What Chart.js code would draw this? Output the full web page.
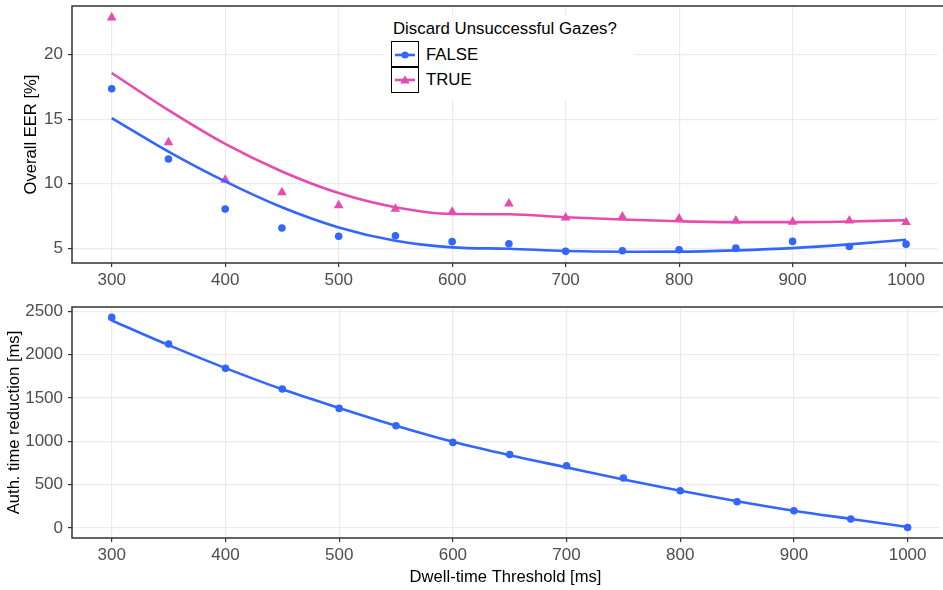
<!DOCTYPE html>
<html>
<head>
<meta charset="utf-8">
<script src="https://cdn.jsdelivr.net/npm/chart.js@4.4.1/dist/chart.umd.min.js"></script>
<style>
  body { margin: 0; background: #fff; width: 943px; height: 590px; overflow: hidden; position: relative;
         font-family: "Liberation Sans", Arial, sans-serif; }
  #eerChart { position: absolute; left: 0; top: 0; }
  #reductionChart { position: absolute; left: 0; top: 290px; }
  #legend { position: absolute; left: 383px; top: 15px; width: 252px; height: 85px; background: #fff; }
  #legend .title { position: absolute; left: 10px; top: 4px; font-size: 16.8px; line-height: 20px; color: #000; white-space: nowrap; }
  #legend .key { position: absolute; left: 9px; width: 26px; height: 26px; }
  #legend .label { position: absolute; left: 43px; font-size: 16.8px; line-height: 20px; color: #000; }
  #legend .box { position: absolute; left: 8px; width: 26px; height: 24px; border: 1.5px solid #000; }
</style>
</head>
<body>
<canvas id="eerChart" width="943" height="290"></canvas>
<canvas id="reductionChart" width="943" height="300"></canvas>
<div id="legend"></div>

<script>
// dwell-time thresholds (ms)
const thresholds = [300, 350, 400, 450, 500, 550, 600, 650, 700, 750, 800, 850, 900, 950, 1000];

// overall EER [%] - observed points
const eerFalse = [17.35, 11.92, 8.05, 6.58, 5.93, 5.98, 5.52, 5.36, 4.77, 4.82, 4.90, 5.02, 5.54, 5.15, 5.33];
const eerTrue  = [22.85, 13.20, 10.30, 9.33, 8.33, 8.05, 7.82, 8.46, 7.38, 7.46, 7.31, 7.15, 7.05, 7.15, 7.02];

// loess curves
const eerFalseSmooth = [15.08, 12.49, 10.18, 8.18, 6.62, 5.59, 5.08, 4.97, 4.80, 4.74, 4.75, 4.85, 5.02, 5.31, 5.67];
const eerTrueSmooth  = [18.57, 15.69, 13.08, 10.95, 9.28, 8.18, 7.66, 7.64, 7.41, 7.23, 7.10, 7.03, 7.03, 7.08, 7.18];

// auth. time reduction [ms]
const reduction       = [2430, 2123, 1842, 1604, 1380, 1180, 988, 849, 719, 577, 430, 303, 200, 104, 7];
const reductionSmooth = [2395, 2110, 1845, 1600, 1385, 1180, 995, 840, 700, 560, 430, 310, 200, 105, 12];

// axis ticks
const xTicks = [300, 400, 500, 600, 700, 800, 900, 1000];
const eerTicks = [5, 10, 15, 20];
const reductionTicks = [0, 500, 1000, 1500, 2000, 2500];

const groupNames = ["FALSE", "TRUE"];
const groupColors = ["#3366ff", "#e64bb0"];
const groupShapes = ["circle", "triangle"];

Chart.defaults.font.family = '"Liberation Sans", Arial, sans-serif';
Chart.defaults.animation = false;

const toXY = (vals) => thresholds.map((t, i) => ({ x: t, y: vals[i] }));

// ggplot-like panel frame: left, top, bottom (right side runs off the picture)
const panelFrame = {
  id: "panelFrame",
  afterDraw(chart) {
    const { ctx, chartArea: a } = chart;
    ctx.save();
    ctx.strokeStyle = "#333333";
    ctx.lineWidth = 1.5;
    ctx.beginPath();
    ctx.moveTo(chart.width + 2, a.top);
    ctx.lineTo(a.left, a.top);
    ctx.lineTo(a.left, a.bottom);
    ctx.lineTo(chart.width + 2, a.bottom);
    ctx.stroke();
    ctx.restore();
  }
};

// no auto padding, the panels are placed by hand
function noPad(s) {
  s.paddingLeft = 0; s.paddingRight = 0; s.paddingTop = 0; s.paddingBottom = 0;
}

function xScale(withTitle, height) {
  return {
    type: "linear",
    min: 265,
    max: 1027.6,
    afterBuildTicks: (s) => { s.ticks = xTicks.map(v => ({ value: v })); },
    afterFit: (s) => { s.height = height; noPad(s); },
    grid: { color: "#ebebeb", lineWidth: 1.2, tickColor: "#333333", tickLength: 4 },
    border: { display: false },
    ticks: { color: "#4d4d4d", font: { size: 17 }, padding: 3, maxRotation: 0, callback: (v) => String(v) },
    title: {
      display: withTitle,
      text: "Dwell-time Threshold [ms]",
      color: "#000",
      font: { size: 16.6 },
      padding: { top: 0, bottom: 3 }
    }
  };
}

function yScale(min, max, ticks, title, titlePad) {
  return {
    type: "linear",
    min: min,
    max: max,
    afterBuildTicks: (s) => { s.ticks = ticks.map(v => ({ value: v })); },
    afterFit: (s) => { s.width = 72; noPad(s); },
    grid: { color: "#ebebeb", lineWidth: 1.2, tickColor: "#333333", tickLength: 4 },
    border: { display: false },
    ticks: { color: "#4d4d4d", font: { size: 17 }, padding: 5, callback: (v) => String(v) },
    title: {
      display: true,
      text: title,
      color: "#000",
      font: { size: 16.6 },
      padding: { top: titlePad, bottom: 0 }
    }
  };
}

const eerPoints = [eerFalse, eerTrue];
const eerSmooth = [eerFalseSmooth, eerTrueSmooth];

const eerDatasets = [];
groupNames.forEach((name, g) => {
  eerDatasets.push({
    label: name + " smooth",
    data: toXY(eerSmooth[g]),
    borderColor: groupColors[g],
    borderWidth: 2.6,
    pointRadius: 0,
    cubicInterpolationMode: "monotone",
    showLine: true,
    fill: false
  });
  eerDatasets.push({
    label: name,
    data: toXY(eerPoints[g]),
    showLine: false,
    pointStyle: groupShapes[g],
    pointRadius: groupShapes[g] === "triangle" ? 5.6 : 3.8,
    pointBackgroundColor: groupColors[g],
    pointBorderColor: groupColors[g],
    pointBorderWidth: 0
  });
});

new Chart(document.getElementById("eerChart"), {
  type: "scatter",
  data: { datasets: eerDatasets },
  options: {
    responsive: false,
    layout: { padding: { top: 6, left: 0, right: 0, bottom: 0 } },
    plugins: { legend: { display: false }, tooltip: { enabled: false } },
    scales: {
      x: xScale(false, 27),
      y: yScale(3.87, 23.75, eerTicks, "Overall EER [%]", 21)
    }
  },
  plugins: [panelFrame]
});

new Chart(document.getElementById("reductionChart"), {
  type: "scatter",
  data: {
    datasets: [
      {
        label: "smooth",
        data: toXY(reductionSmooth),
        borderColor: groupColors[0],
        borderWidth: 2.6,
        pointRadius: 0,
        cubicInterpolationMode: "monotone",
        showLine: true,
        fill: false
      },
      {
        label: "reduction",
        data: toXY(reduction),
        showLine: false,
        pointRadius: 3.8,
        pointBackgroundColor: groupColors[0],
        pointBorderColor: groupColors[0],
        pointBorderWidth: 0
      }
    ]
  },
  options: {
    responsive: false,
    layout: { padding: { top: 17, left: 0, right: 0, bottom: 0 } },
    plugins: { legend: { display: false }, tooltip: { enabled: false } },
    scales: {
      x: xScale(true, 52),
      y: yScale(-115, 2550, reductionTicks, "Auth. time reduction [ms]", 4)
    }
  },
  plugins: [panelFrame]
});

// legend (ggplot style, sits inside the top panel)
function keySvg(color, shape) {
  const marker = shape === "triangle"
    ? `<polygon points="13,8.2 17.8,16.6 8.2,16.6" fill="${color}"/>`
    : `<circle cx="13" cy="13" r="3.6" fill="${color}"/>`;
  return `<svg width="26" height="26" viewBox="0 0 26 26">
    <line x1="3" y1="13" x2="23" y2="13" stroke="${color}" stroke-width="2.6"/>
    ${marker}
  </svg>`;
}

const legend = document.getElementById("legend");
legend.innerHTML =
  `<div class="title">Discard Unsuccessful Gazes?</div>` +
  groupNames.map((name, g) => `
    <div class="box" style="top:${26 + g * 25.6}px"></div>
    <div class="key" style="top:${26.5 + g * 25.6}px">${keySvg(groupColors[g], groupShapes[g])}</div>
    <div class="label" style="top:${29.5 + g * 25}px">${name}</div>
  `).join("");
</script>
</body>
</html>
